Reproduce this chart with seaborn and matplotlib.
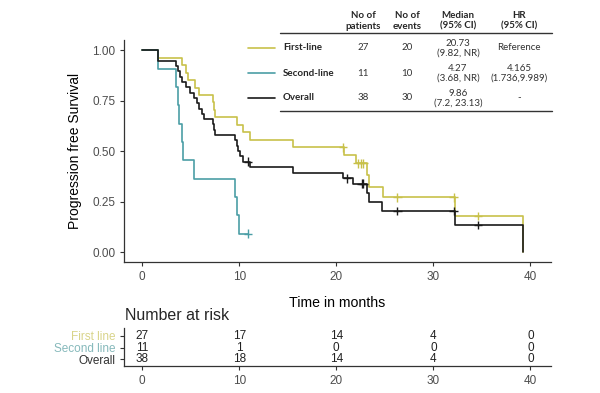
import numpy as np
import pandas as pd
import seaborn as sns
import matplotlib.pyplot as plt
from matplotlib.lines import Line2D

# step curves: (time in months, survival after the step)
first_t = [0, 1.65, 4.1, 4.5, 4.7, 5.45, 5.9, 7.3, 7.4, 7.5, 9.8, 10.4, 11.1, 15.5,
           20.8, 22.0, 23.2, 23.4, 24.8, 32.2, 39.2]
first_s = [1.0, 0.963, 0.926, 0.889, 0.852, 0.815, 0.778, 0.741, 0.704, 0.667, 0.630,
           0.593, 0.556, 0.519, 0.482, 0.440, 0.380, 0.320, 0.272, 0.178, 0.0]
first_cens = [20.7, 22.2, 22.5, 22.8, 26.3, 32.1, 34.6]

second_t = [0, 1.65, 3.5, 3.7, 3.8, 4.1, 4.2, 5.3, 9.6, 9.8, 9.95, 10.9]
second_s = [1.0, 0.909, 0.818, 0.727, 0.636, 0.545, 0.455, 0.364, 0.273, 0.182, 0.091, 0.091]
second_cens = [10.9]

overall_t = [0, 1.6, 3.5, 3.7, 3.9, 4.1, 4.5, 4.95, 5.3, 5.65, 5.9, 6.2, 6.4, 7.3, 7.4,
             7.5, 9.6, 9.8, 9.9, 10.1, 10.4, 11.1, 15.5, 20.7, 21.7, 23.2, 23.4, 24.7,
             32.2, 39.2]
overall_s = [1.0, 0.947, 0.921, 0.895, 0.868, 0.842, 0.816, 0.789, 0.763, 0.737, 0.711,
             0.684, 0.658, 0.632, 0.605, 0.579, 0.553, 0.526, 0.500, 0.474, 0.447, 0.420,
             0.394, 0.366, 0.339, 0.290, 0.247, 0.203, 0.134, 0.0]
overall_cens = [10.9, 21.1, 22.6, 22.8, 26.3, 32.1, 34.6]

groups = ["First-line", "Second-line", "Overall"]
risk_labels = ["First line", "Second line", "Overall"]
risk_times = [0, 10, 20, 30, 40]
risk_first = [27, 17, 14, 4, 0]
risk_second = [11, 1, 0, 0, 0]
risk_overall = [38, 18, 14, 4, 0]

n_patients = ["27", "11", "38"]
n_events = ["20", "10", "30"]
medians = ["20.73\n(9.82, NR)", "4.27\n(3.68, NR)", "9.86\n(7.2, 23.13)"]
hrs = ["Reference", "4.165\n(1.736,9.989)", "-"]

colors = {"First-line": "#c8c14a", "Second-line": "#4b9ea6", "Overall": "#1a1a1a"}
label_colors = ["#d9d48a", "#86b9bb", "#333333"]

curves = pd.concat([
    pd.DataFrame({"group": g, "time": t, "surv": s})
    for g, t, s in zip(groups, [first_t, second_t, overall_t], [first_s, second_s, overall_s])
])


def surv_at(times, survs, c):
    i = np.searchsorted(times, c, side="right") - 1
    return survs[i]


cens = pd.concat([
    pd.DataFrame({"group": g, "time": cs, "surv": [surv_at(t, s, c) for c in cs]})
    for g, t, s, cs in zip(groups, [first_t, second_t, overall_t],
                           [first_s, second_s, overall_s],
                           [first_cens, second_cens, overall_cens])
])

sns.set_theme(style="ticks")
plt.rcParams["font.family"] = ["Liberation Sans", "DejaVu Sans"]

fig = plt.figure(figsize=(6, 3.93), dpi=100)
ax = fig.add_axes([0.207, 0.333, 0.711, 0.565])
sns.lineplot(data=curves, x="time", y="surv", hue="group", palette=colors,
             estimator=None, sort=False, drawstyle="steps-post", linewidth=1.2,
             legend=False, ax=ax)
sns.scatterplot(data=cens, x="time", y="surv", hue="group", palette=colors,
                marker="+", s=40, linewidth=1.0, legend=False, ax=ax, zorder=3)
ax.set_xlim(-1.85, 42.1)
ax.set_ylim(-0.05, 1.05)
ax.set_xticks(risk_times)
ax.set_yticks([0, 0.25, 0.5, 0.75, 1.0])
ax.set_yticklabels(["0.00", "0.25", "0.50", "0.75", "1.00"])
ax.set_xlabel("Time in months", fontsize=10.2, labelpad=9, color="black")
ax.set_ylabel("Progression free Survival", fontsize=10, labelpad=7, color="black")
ax.tick_params(labelsize=8.5, labelcolor="#4d4d4d", length=3, color="#333333", width=0.8)
for sp in ["left", "bottom"]:
    ax.spines[sp].set_color("#333333")
    ax.spines[sp].set_linewidth(0.9)
sns.despine(ax=ax)

# summary table in the top right corner
tf = ["Lato", "DejaVu Sans"]
W, H = 600.0, 393.0
col_x = [363, 407, 458, 519]
heads = ["No of\npatients", "No of\nevents", "Median\n(95% CI)", "HR\n(95% CI)"]
for x, h in zip(col_x, heads):
    fig.text(x / W, 1 - 21 / H, h, ha="center", va="center", fontsize=7, fontweight="bold",
             family=tf, linespacing=1.15)
for yl in [33, 111]:
    fig.add_artist(Line2D([280 / W, 552 / W], [1 - yl / H] * 2, color="#333333", lw=1.0))
row_y = [48, 73, 98]
for i, g in enumerate(groups):
    yy = 1 - row_y[i] / H
    fig.add_artist(Line2D([248 / W, 275 / W], [yy, yy], color=colors[g], lw=1.2))
    fig.text(283 / W, yy, g, ha="left", va="center", fontsize=7, fontweight="bold", family=tf)
    for x, v in zip(col_x, [n_patients[i], n_events[i], medians[i], hrs[i]]):
        fig.text(x / W, yy, v, ha="center", va="center", fontsize=7, family=tf,
                 color="#333333", linespacing=1.1)

# number at risk table
rax = fig.add_axes([0.207, 0.0687, 0.711, 0.097])
rax.set_xlim(-1.85, 42.1)
rax.set_ylim(-0.6, 2.7)
for row, vals in zip([2, 1, 0], [risk_first, risk_second, risk_overall]):
    for t, v in zip(risk_times, vals):
        rax.text(t, row, str(v), ha="center", va="center", fontsize=8.5, color="#222222")
rax.set_xticks(risk_times)
rax.set_yticks([2, 1, 0])
rax.set_yticklabels(risk_labels)
for lab, c in zip(rax.get_yticklabels(), label_colors):
    lab.set_color(c)
rax.tick_params(labelsize=8.5, length=3, color="#333333", width=0.8)
rax.tick_params(axis="x", labelcolor="#4d4d4d")
for sp in ["left", "bottom"]:
    rax.spines[sp].set_color("#333333")
    rax.spines[sp].set_linewidth(0.9)
sns.despine(ax=rax)
fig.text(125 / W, 1 - 316 / H, "Number at risk", ha="left", va="center", fontsize=11.5)

fig.savefig("out.png", dpi=100)
